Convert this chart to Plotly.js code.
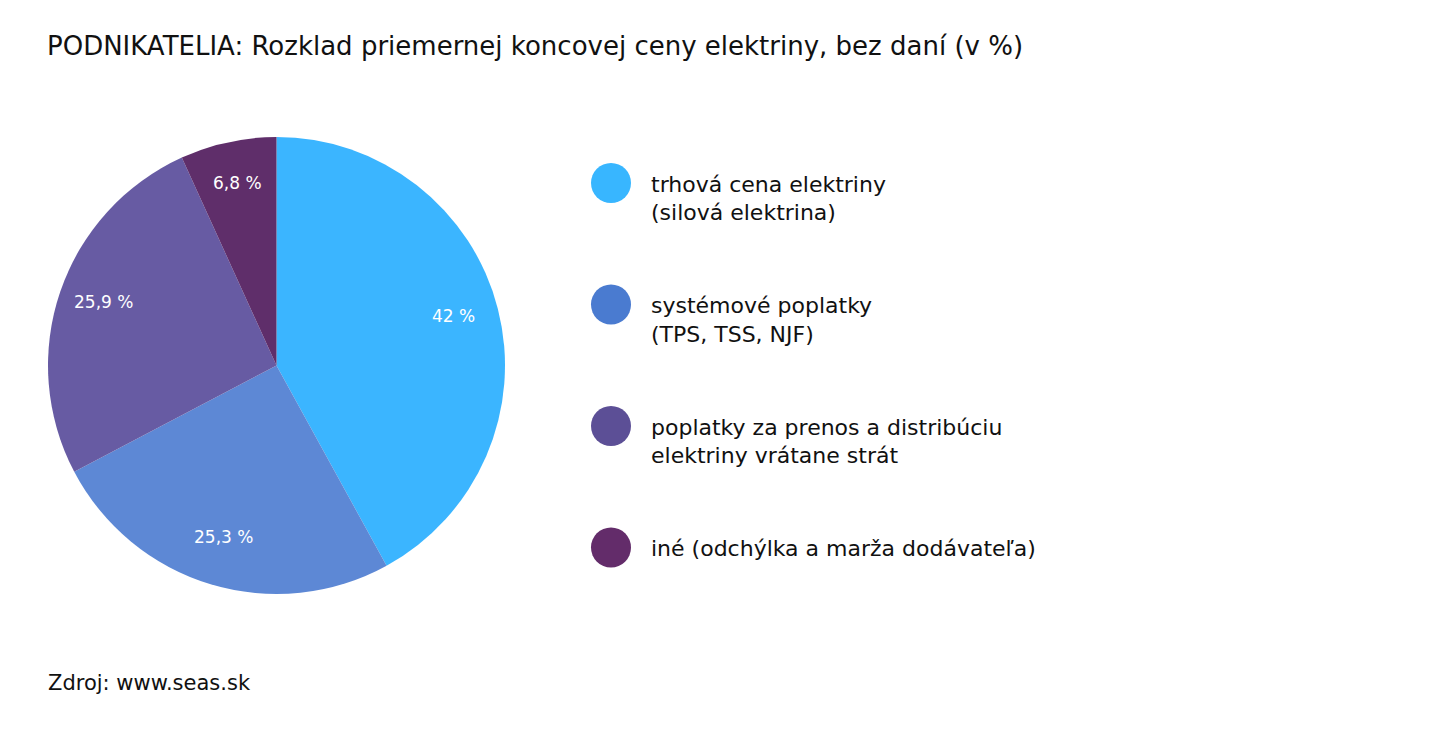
<!DOCTYPE html>
<html>
<head>
<meta charset="utf-8">
<script src="https://cdn.plot.ly/plotly-3.0.1.min.js"></script>
<style>html,body{margin:0;padding:0;background:#fff;}#chart{width:1430px;height:730px;}</style>
</head>
<body>
<div id="chart"></div>
<script>
var categories = [
  "trhová cena elektriny<br>(silová elektrina)",
  "systémové poplatky<br>(TPS, TSS, NJF)",
  "poplatky za prenos a distribúciu<br>elektriny vrátane strát",
  "iné (odchýlka a marža dodávateľa)"
];
var values = [42, 25.3, 25.9, 6.8];
var valueLabels = ["42 %", "25,3 %", "25,9 %", "6,8 %"];
var pieColors = ["#3BB5FF", "#5D88D5", "#675BA3", "#5F2E6A"];
var legendColors = ["#38B6FF", "#4A7BD0", "#5C4F96", "#632C6A"];
var titleText = "PODNIKATELIA: Rozklad priemernej koncovej ceny elektriny, bez daní (v %)";
var sourceText = "Zdroj: www.seas.sk";

var FONT = "DejaVu Sans, sans-serif";
var W = 1430, H = 730;
function px(x){ return x / W; }
function py(y){ return 1 - y / H; }

// pie box (pixels)
var pieL = 48, pieR = 505, pieT = 137, pieB = 594;

var trace = {
  type: "pie",
  values: values,
  labels: categories,
  textinfo: "none",
  marker: {colors: pieColors, line: {width: 0}},
  sort: false,
  direction: "clockwise",
  rotation: 0,
  showlegend: false,
  hoverinfo: "label+percent",
  domain: {x: [px(pieL), px(pieR)], y: [py(pieB), py(pieT)]}
};

var shapes = [], annotations = [];

// value labels placed at each slice's mid-angle, derived from the values
var total = values.reduce(function(a, b){ return a + b; }, 0);
var cx = (pieL + pieR) / 2, cy0 = (pieT + pieB) / 2, rad = (pieR - pieL) / 2;
var acc = 0;
values.forEach(function(v, i){
  var mid = (acc + v / 2) / total * 2 * Math.PI;
  acc += v;
  var rho = rad * 0.8;
  var lx = cx + rho * Math.sin(mid);
  var ly = cy0 - rho * Math.cos(mid) - 4;
  annotations.push({xref: "paper", yref: "paper", x: px(lx), y: py(ly),
    xanchor: "center", yanchor: "middle", showarrow: false, text: valueLabels[i],
    font: {family: FONT, size: 17, color: "#ffffff"}});
});

var legendX = 611, legendY0 = 183, legendStep = 121.5, r = 20;
categories.forEach(function(c, i){
  var cy = legendY0 + i * legendStep;
  shapes.push({type: "circle", xref: "paper", yref: "paper",
    x0: px(legendX - r), x1: px(legendX + r), y0: py(cy + r), y1: py(cy - r),
    fillcolor: legendColors[i], line: {width: 0}});
  c.split("<br>").forEach(function(line, j){
    annotations.push({xref: "paper", yref: "paper", x: px(649), y: py(cy + 1 + j * 28.5),
      xanchor: "left", yanchor: "middle", showarrow: false, text: line,
      font: {family: FONT, size: 22, color: "#111111"}});
  });
});
annotations.push({xref: "paper", yref: "paper", x: px(46), y: py(683), xanchor: "left", yanchor: "middle",
  showarrow: false, text: sourceText, font: {family: FONT, size: 21, color: "#111111"}});

var layout = {
  width: W, height: H,
  margin: {l: 0, r: 0, t: 0, b: 0},
  paper_bgcolor: "#ffffff",
  title: {text: titleText, x: px(47), xanchor: "left", y: py(46), yanchor: "middle",
    font: {family: FONT, size: 26, color: "#111111"}},
  shapes: shapes,
  annotations: annotations
};
Plotly.newPlot("chart", [trace], layout, {displayModeBar: false, staticPlot: true});
</script>
</body>
</html>
